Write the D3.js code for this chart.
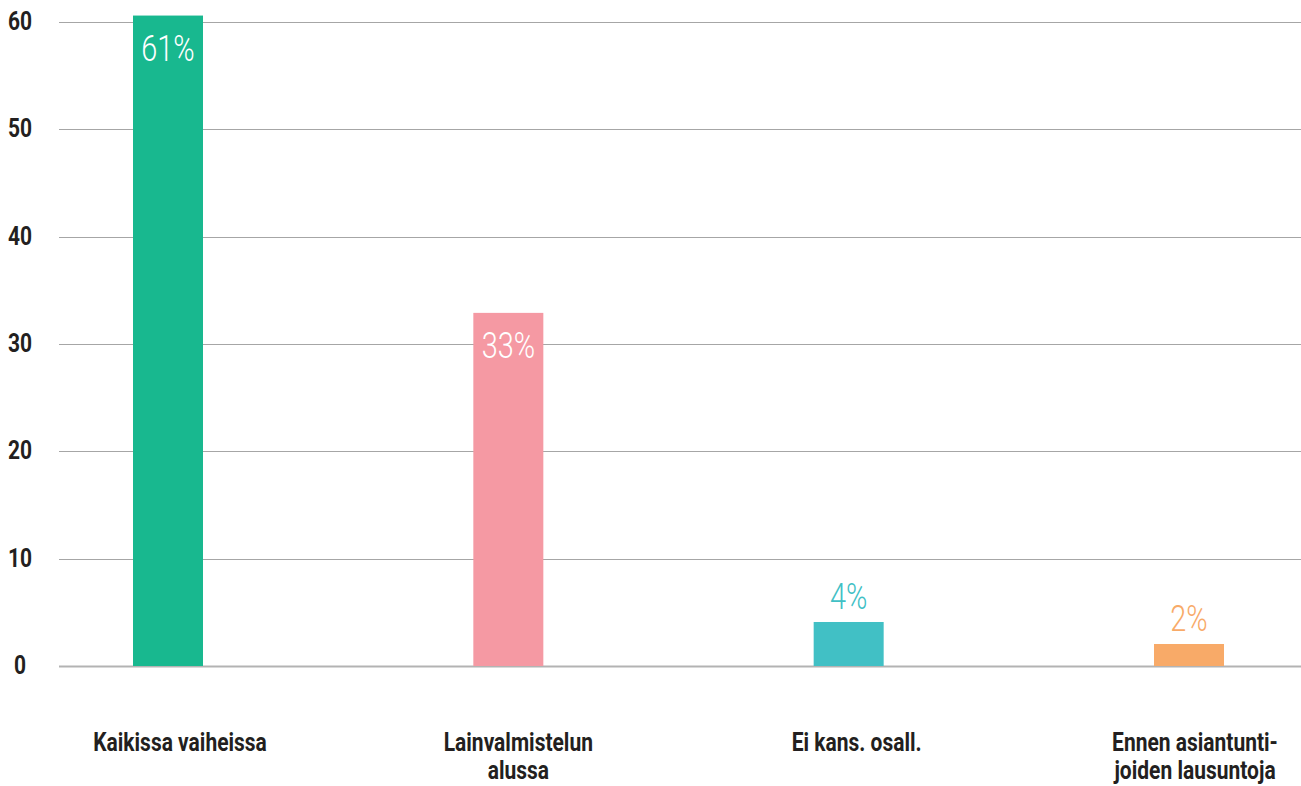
<!DOCTYPE html>
<html><head><meta charset="utf-8">
<script src="https://cdn.jsdelivr.net/npm/d3@7"></script>
<style>
html,body{margin:0;padding:0;background:#fff;}
text{font-family:Roboto,"Liberation Sans",sans-serif;}
</style></head>
<body>
<svg id="c" width="1301" height="786"></svg>
<script>
const categories = [["Kaikissa vaiheissa"], ["Lainvalmistelun", "alussa"], ["Ei kans. osall."], ["Ennen asiantunti-", "joiden lausuntoja"]];
const values = [60.6, 32.9, 4.1, 2.05];
const valueLabels = ["61%", "33%", "4%", "2%"];
const colors = ["#18b88f", "#f599a3", "#41c0c5", "#f8aa68"];
const yTicks = [0, 10, 20, 30, 40, 50, 60];

const svg = d3.select("#c");
const y = d3.scaleLinear().domain([0, 60]).range([666, 22]);
const x = d3.scalePoint().domain(d3.range(categories.length)).range([168, 1189]);
const xLab = d3.scalePoint().domain(d3.range(categories.length)).range([180, 1195]);
const barW = 70;

// grid
svg.append("g").selectAll("line").data(yTicks).join("line")
  .attr("x1", 59).attr("x2", 1301)
  .attr("y1", d => Math.round(y(d)) + 0.5).attr("y2", d => Math.round(y(d)) + 0.5)
  .attr("stroke", d => d === 0 ? "#b3b3b3" : "#a6a6a6")
  .attr("stroke-width", d => d === 0 ? 2 : 1);

// y labels
svg.append("g").selectAll("text").data(yTicks).join("text")
  .attr("transform", d => `translate(20,${y(d) + 8}) scale(0.84,1)`)
  .attr("text-anchor", "middle")
  .attr("font-size", 25).attr("font-weight", "bold").attr("fill", "#231f20")
  .text(d => d);

// bars
svg.append("g").selectAll("rect").data(values).join("rect")
  .attr("x", (d, i) => x(i) - barW / 2).attr("width", barW)
  .attr("y", d => y(d)).attr("height", d => y(0) - y(d))
  .attr("fill", (d, i) => colors[i]);

// value labels
svg.append("g").selectAll("text").data(values).join("text")
  .attr("transform", (d, i) => `translate(${x(i)},${d > 10 ? y(d) + 45 : y(d) - 13}) scale(0.78,1)`)
  .attr("text-anchor", "middle")
  .attr("font-size", 37).attr("font-weight", 300)
  .attr("fill", (d, i) => d > 10 ? "#ffffff" : colors[i])
  .text((d, i) => valueLabels[i]);

// x labels
const xl = svg.append("g").selectAll("text").data(categories).join("text")
  .attr("transform", (d, i) => `translate(${xLab(i)},751) scale(0.84,1)`)
  .attr("text-anchor", "middle")
  .attr("font-size", 25).attr("font-weight", "bold").attr("fill", "#231f20");
xl.selectAll("tspan").data(d => d).join("tspan")
  .attr("x", 0)
  .attr("dy", (d, i) => i === 0 ? 0 : 28)
  .text(d => d);
</script>
</body></html>
